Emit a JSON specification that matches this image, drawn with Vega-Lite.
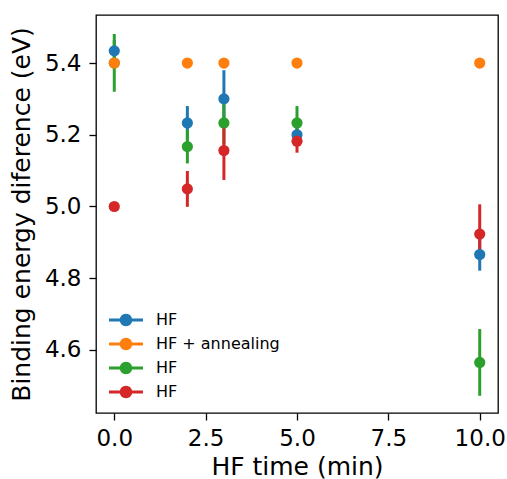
{
  "$schema": "https://vega.github.io/schema/vega-lite/v6.json",
  "width": 402,
  "height": 398,
  "autosize": "none",
  "padding": {"left": 96, "top": 15, "right": 9, "bottom": 66},
  "background": "white",
  "config": {
    "font": "DejaVu Sans",
    "view": {"stroke": "black", "strokeWidth": 1.3},
    "axis": {
      "labelFont": "DejaVu Sans", "titleFont": "DejaVu Sans",
      "labelFontSize": 23, "titleFontSize": 25, "titleFontWeight": "normal",
      "labelColor": "black", "titleColor": "black",
      "tickColor": "black", "tickSize": 7, "tickWidth": 1.3,
      "grid": false, "domain": false
    },
    "legend": {
      "labelFont": "DejaVu Sans", "labelFontSize": 16, "labelColor": "black", "padding": 0
    }
  },
  "data": {"values": [
    {"series": "A", "x": 0, "y": 5.434, "lo": 5.404, "hi": 5.464},
    {"series": "A", "x": 2, "y": 5.233, "lo": 5.186, "hi": 5.28},
    {"series": "A", "x": 3, "y": 5.30, "lo": 5.22, "hi": 5.38},
    {"series": "A", "x": 5, "y": 5.20, "lo": 5.18, "hi": 5.22},
    {"series": "A", "x": 10, "y": 4.866, "lo": 4.821, "hi": 4.911},
    {"series": "C", "x": 0, "y": 5.40, "lo": 5.32, "hi": 5.481},
    {"series": "C", "x": 2, "y": 5.167, "lo": 5.12, "hi": 5.214},
    {"series": "C", "x": 3, "y": 5.233, "lo": 5.173, "hi": 5.293},
    {"series": "C", "x": 5, "y": 5.233, "lo": 5.186, "hi": 5.28},
    {"series": "C", "x": 10, "y": 4.565, "lo": 4.472, "hi": 4.658},
    {"series": "D", "x": 0, "y": 5.00, "lo": 5.00, "hi": 5.00},
    {"series": "D", "x": 2, "y": 5.049, "lo": 4.999, "hi": 5.099},
    {"series": "D", "x": 3, "y": 5.156, "lo": 5.074, "hi": 5.238},
    {"series": "D", "x": 5, "y": 5.182, "lo": 5.15, "hi": 5.214},
    {"series": "D", "x": 10, "y": 4.923, "lo": 4.87, "hi": 5.006},
    {"series": "B", "x": 0, "y": 5.40, "lo": 5.40, "hi": 5.40},
    {"series": "B", "x": 2, "y": 5.40, "lo": 5.40, "hi": 5.40},
    {"series": "B", "x": 3, "y": 5.40, "lo": 5.40, "hi": 5.40},
    {"series": "B", "x": 5, "y": 5.40, "lo": 5.40, "hi": 5.40},
    {"series": "B", "x": 10, "y": 5.40, "lo": 5.40, "hi": 5.40}
  ]},
  "encoding": {
    "x": {
      "field": "x", "type": "quantitative",
      "scale": {"domain": [-0.5, 10.5], "nice": false, "zero": false},
      "axis": {"values": [0, 2.5, 5, 7.5, 10], "format": ".1f", "title": "HF time (min)", "labelPadding": 7, "titlePadding": 4}
    },
    "color": {
      "field": "series", "type": "nominal",
      "scale": {"domain": ["A", "B", "C", "D"], "range": ["#1f77b4", "#ff7f0e", "#2ca02c", "#d62728"]},
      "legend": {
        "title": null,
        "orient": "none", "legendX": 22, "legendY": 297,
        "labelExpr": "datum.value == 'B' ? 'HF + annealing' : 'HF'",
        "symbolType": "M-2.125,-0.175H2.125V0.175H-2.125Z M0.78,0A0.78,0.78 0 1,1 -0.78,0A0.78,0.78 0 1,1 0.78,0Z",
        "symbolSize": 256, "symbolStrokeWidth": 0, "symbolOpacity": 1,
        "labelOffset": 22, "rowPadding": 8
      }
    }
  },
  "layer": [
    {
      "mark": {"type": "rule", "strokeWidth": 3},
      "encoding": {
        "y": {"field": "lo", "type": "quantitative",
          "scale": {"domain": [4.424, 5.534], "nice": false, "zero": false},
          "axis": {"values": [4.6, 4.8, 5.0, 5.2, 5.4], "format": ".1f", "title": "Binding energy diference (eV)", "labelPadding": 8, "titlePadding": 10}},
        "y2": {"field": "hi"}
      }
    },
    {
      "mark": {"type": "point", "filled": true, "opacity": 1, "size": 125, "shape": "circle"},
      "encoding": {
        "y": {"field": "y", "type": "quantitative"}
      }
    }
  ]
}
